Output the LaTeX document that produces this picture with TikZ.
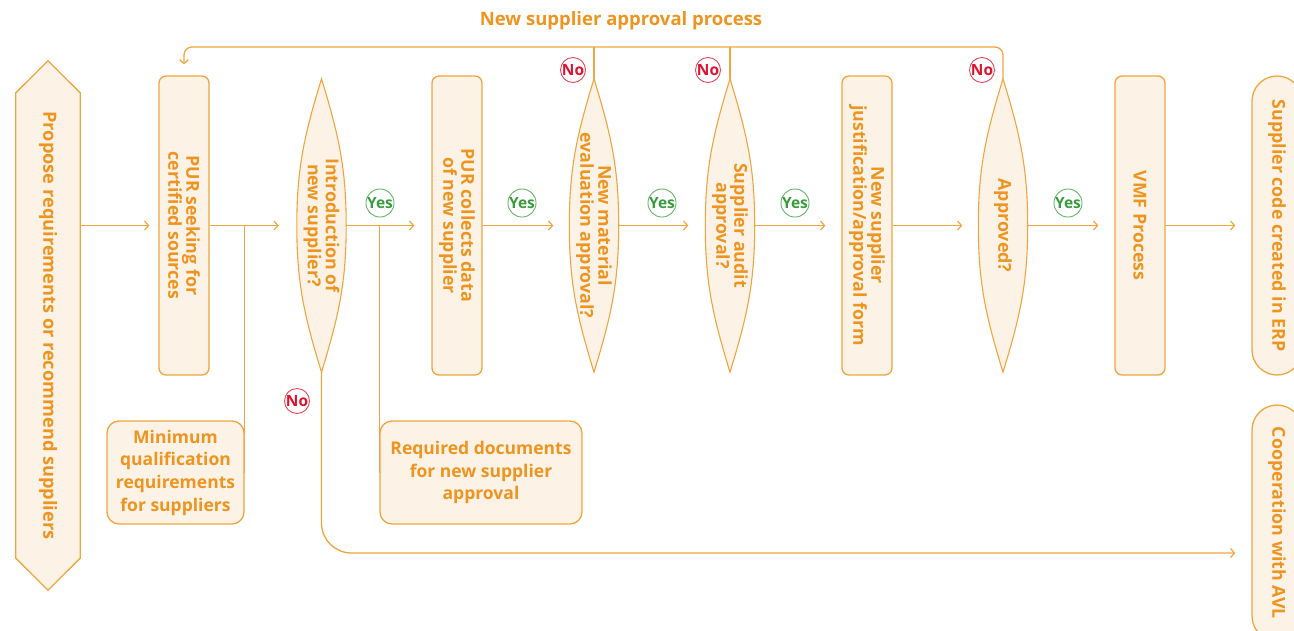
\documentclass[tikz,border=0pt]{standalone}
\usepackage{fontspec}
\setmainfont{Open Sans}
\usetikzlibrary{arrows.meta}
\definecolor{stk}{HTML}{F0A640}
\definecolor{txt}{HTML}{EE9420}
\definecolor{fil}{HTML}{FCF3E6}
\definecolor{grn}{HTML}{3A9C3E}
\definecolor{grnc}{HTML}{62B864}
\definecolor{redt}{HTML}{E0132E}
\definecolor{redc}{HTML}{E5485A}
\pgfdeclarelayer{bg}
\pgfsetlayers{bg,main}
\tikzset{
  box/.style={draw=stk, fill=fil, line width=1.3pt, rounded corners=7pt, minimum width=50pt, minimum height=299pt, inner sep=0pt},
  term/.style={draw=stk, fill=fil, line width=1.3pt, rounded corners=25pt, minimum width=50pt, inner sep=0pt},
  lensarea/.style={minimum width=49pt, minimum height=293pt, inner sep=0pt},
  lens/.style={draw=stk, fill=fil, line width=1.1pt},
  vtext/.style={rotate=-90, text=txt, font=\bfseries\fontsize{17.8}{18}\selectfont, align=center, inner sep=0pt},
  htext/.style={draw=stk, fill=fil, line width=1.3pt, rounded corners=12pt, text=txt, font=\bfseries\fontsize{17.5}{22.7}\selectfont, align=center, inner sep=0pt},
  yes/.style={circle, draw=grnc, fill=white, line width=0.9pt, minimum size=25pt, inner sep=0pt, text=grn, font=\bfseries\fontsize{15.5}{15}\selectfont},
  no/.style={circle, draw=redc, fill=white, line width=0.9pt, minimum size=25pt, inner sep=0pt, text=redt, font=\bfseries\fontsize{15.5}{15}\selectfont},
  conn/.style={draw=stk, line width=1.3pt},
  arr/.style={conn, -{Straight Barb[length=4pt,width=9pt,line width=1.2pt]}},
}
\begin{document}
\begin{tikzpicture}[x=1pt,y=-1pt]
\useasboundingbox (0,0) rectangle (1294,630);
\begin{scope}
\clip (0,0) rectangle (1294,630);
% title
\node[text=txt, font=\bfseries\fontsize{18.5}{20}\selectfont] (title) at (621,21) {New supplier approval process};
% left arrow shape
\node[minimum width=64pt, minimum height=529pt, inner sep=0pt] (hex) at (48,325.5) {};
\draw[lens, line width=1.3pt] (hex.north) -- ([yshift=-32pt]hex.north east) -- ([yshift=32pt]hex.south east) -- (hex.south) -- ([yshift=32pt]hex.south west) -- ([yshift=-32pt]hex.north west) -- cycle;
\node[vtext, font=\bfseries\fontsize{18.2}{18}\selectfont] (hext) at (hex.center) {Propose requirements or recommend suppliers};
% boxes
\node[box] (b1) at (184,225.5) {};
\node[vtext] (b1t) at (b1.center) {PUR seeking for\\certified sources};
\node[box] (b3) at (457,225.5) {};
\node[vtext] (b3t) at (b3.center) {PUR collects data\\of new supplier};
\node[box] (b6) at (867,225.5) {};
\node[vtext] (b6t) at (b6.center) {New supplier\\justification/approval form};
\node[box] (b8) at (1140,225.5) {};
\node[vtext] (b8t) at (b8.center) {VMF Process};
\node[term, minimum height=299pt] (erp) at (1277,225.5) {};
\node[vtext] (erpt) at (erp.center) {Supplier code created in ERP};
\node[term, minimum height=236pt] (avl) at (1277,523) {};
\node[vtext] (avlt) at (avl.center) {Cooperation with AVL};
% lens decisions
\foreach \n/\x in {d2/321.5, d4/594, d5/730, d7/1003}{
  \node[lensarea] (\n) at (\x,225.5) {};
  \draw[lens] (\n.north) to[out=-73,in=90] (\n.east) to[out=-90,in=73] (\n.south) to[out=107,in=-90] (\n.west) to[out=90,in=-107] cycle;
}
\node[vtext] (d2t) at (d2.center) {Introduction of\\new supplier?};
\node[vtext] (d4t) at (d4.center) {New material\\evaluation approval?};
\node[vtext] (d5t) at (d5.center) {Supplier audit\\approval?};
\node[vtext] (d7t) at (d7.center) {Approved?};
% lower boxes
\node[htext, minimum width=137pt, minimum height=103pt] (minq) at (175.5,472.5) {Minimum\\qualification\\requirements\\for suppliers};
\node[htext, minimum width=202pt, minimum height=103pt] (reqd) at (481,472.5) {Required documents\\for new supplier\\approval};
% connectors
\coordinate (ly) at (0,47);
\coordinate (noy) at (0,553);
\begin{pgfonlayer}{bg}
\draw[arr, shorten >=9pt] (hex.east |- b1.west) -- (b1.west);
\draw[arr, shorten >=18pt] (b1.east) -- (d2.west);
\draw[arr, shorten >=17pt] (d2.east) -- (b3.west);
\draw[arr, shorten >=16pt] (b3.east) -- (d4.west);
\draw[arr, shorten >=17pt] (d4.east) -- (d5.west);
\draw[arr, shorten >=16pt] (d5.east) -- (b6.west);
\draw[arr, shorten >=16pt] (b6.east) -- (d7.west);
\draw[arr, shorten >=16pt] (d7.east) -- (b8.west);
\draw[arr, shorten >=16pt] (b8.east) -- (erp.west);
\draw[conn] (minq.east |- b1.east) -- (minq.east);
\draw[conn] (reqd.west |- d2.east) -- (reqd.west);
\draw[arr, rounded corners=30pt, shorten >=16pt] (d2.south) -- (d2.south |- noy) -- (avl.west |- noy);
\draw[arr, rounded corners=8pt, shorten >=11pt] (d7.north) -- (d7.north |- ly) -- (b1.north |- ly) -- (b1.north);
\draw[conn] (d4.north) -- (d4.north |- ly);
\draw[conn] (d5.north) -- (d5.north |- ly);
\end{pgfonlayer}
% yes / no marks
\node[yes] (y1) at (380,203) {Yes};
\node[yes] (y2) at (522,203) {Yes};
\node[yes] (y3) at (662,203) {Yes};
\node[yes] (y4) at (795,203) {Yes};
\node[yes] (y5) at (1068,203) {Yes};
\node[no] (n1) at (573,70) {No};
\node[no] (n2) at (708,70) {No};
\node[no] (n3) at (982,70) {No};
\node[no] (n4) at (297,401) {No};
\end{scope}
\end{tikzpicture}
\end{document}
